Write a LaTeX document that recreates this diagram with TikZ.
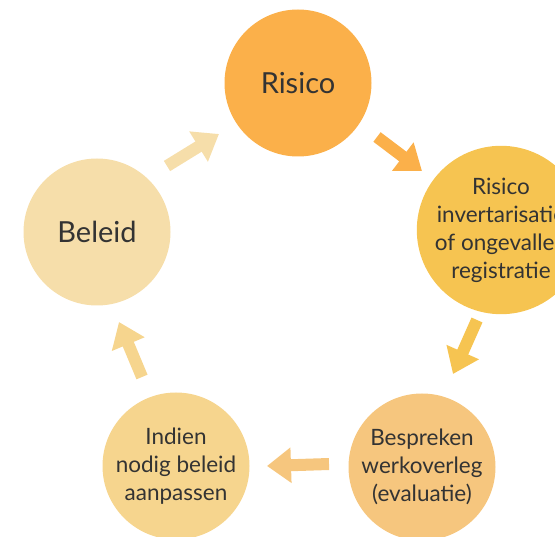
\documentclass[tikz,border=0pt]{standalone}
\usepackage{fontspec}
\setmainfont{Lato}
\usetikzlibrary{arrows.meta}
\definecolor{cA}{HTML}{FBB04A}
\definecolor{cB}{HTML}{F6C451}
\definecolor{cC}{HTML}{F6C67E}
\definecolor{cD}{HTML}{F6D58E}
\definecolor{cE}{HTML}{F6DEAA}
\definecolor{txt}{HTML}{333333}
\tikzset{
  stage/.style={circle,minimum size=147pt,inner sep=0pt,text=txt,align=center},
  bigtext/.style={font=\fontsize{29}{34}\selectfont},
  smalltext/.style={font=\fontsize{22.5}{28}\selectfont},
  flow/.style={line width=12pt,-{Triangle[length=24pt,width=34pt]}},
}
\begin{document}
\begin{tikzpicture}[x=1pt,y=-1pt]
\useasboundingbox (0,0) rectangle (555,537);
\clip (0,0) rectangle (555,537);
\node[stage,fill=cA,bigtext] (risico) at (298,83) {Risico};
\node[stage,fill=cB,smalltext] (inv) at (501,230) {Risico\\invertarisatie\\of ongevallen\\registratie};
\node[stage,fill=cC,smalltext] (besp) at (422,467) {Bespreken\\werkoverleg\\(evaluatie)};
\node[stage,fill=cD,smalltext] (indien) at (176,466) {Indien\\nodig beleid\\aanpassen};
\node[stage,fill=cE,bigtext] (beleid) at (97,232) {Beleid};
\coordinate (t1) at (167,166); \coordinate (h1) at (219,134);
\coordinate (t2) at (377,137); \coordinate (h2) at (422,171);
\coordinate (t3) at (477,320); \coordinate (h3) at (453,374);
\coordinate (t4) at (329,464); \coordinate (h4) at (267,466);
\coordinate (t5) at (142,377); \coordinate (h5) at (119,322);
\draw[flow,cE] (t1) -- (h1);
\draw[flow,cA] (t2) -- (h2);
\draw[flow,cB] (t3) -- (h3);
\draw[flow,cC] (t4) -- (h4);
\draw[flow,cD] (t5) -- (h5);
\end{tikzpicture}
\end{document}
